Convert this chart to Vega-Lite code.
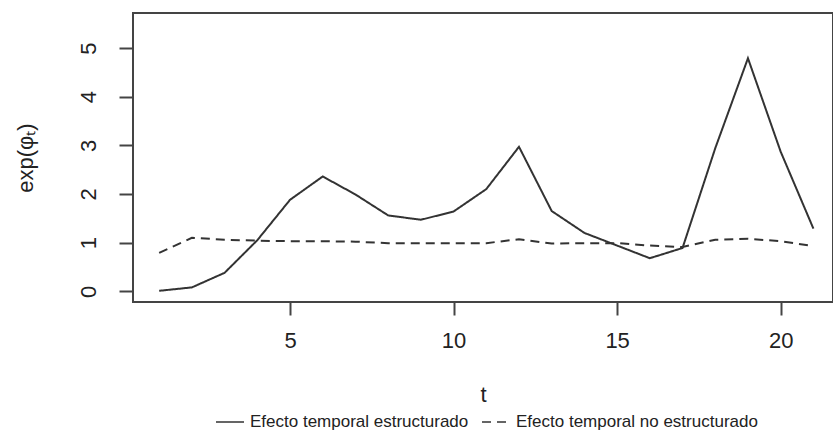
{
  "$schema": "https://vega.github.io/schema/vega-lite/v6.json",
  "autosize": {"type": "none"},
  "width": 700,
  "height": 289,
  "padding": {"left": 133, "top": 13, "right": 0, "bottom": 130},
  "background": "white",
  "config": {
    "font": "Liberation Sans",
    "view": {"stroke": "#444", "strokeWidth": 2},
    "axis": {"grid": false, "domain": false, "tickColor": "#444", "tickWidth": 2, "labelColor": "#222", "titleColor": "#222", "labelFontSize": 22, "titleFontSize": 22, "titleFontWeight": "normal", "labelFont": "Liberation Sans", "titleFont": "Liberation Sans"}
  },
  "data": {
    "values": [
      {"t": 1, "valor": 0.01, "serie": "Efecto temporal estructurado"},
      {"t": 2, "valor": 0.08, "serie": "Efecto temporal estructurado"},
      {"t": 3, "valor": 0.38, "serie": "Efecto temporal estructurado"},
      {"t": 4, "valor": 1.05, "serie": "Efecto temporal estructurado"},
      {"t": 5, "valor": 1.88, "serie": "Efecto temporal estructurado"},
      {"t": 6, "valor": 2.36, "serie": "Efecto temporal estructurado"},
      {"t": 7, "valor": 1.99, "serie": "Efecto temporal estructurado"},
      {"t": 8, "valor": 1.56, "serie": "Efecto temporal estructurado"},
      {"t": 9, "valor": 1.47, "serie": "Efecto temporal estructurado"},
      {"t": 10, "valor": 1.64, "serie": "Efecto temporal estructurado"},
      {"t": 11, "valor": 2.1, "serie": "Efecto temporal estructurado"},
      {"t": 12, "valor": 2.97, "serie": "Efecto temporal estructurado"},
      {"t": 13, "valor": 1.65, "serie": "Efecto temporal estructurado"},
      {"t": 14, "valor": 1.2, "serie": "Efecto temporal estructurado"},
      {"t": 15, "valor": 0.94, "serie": "Efecto temporal estructurado"},
      {"t": 16, "valor": 0.68, "serie": "Efecto temporal estructurado"},
      {"t": 17, "valor": 0.89, "serie": "Efecto temporal estructurado"},
      {"t": 18, "valor": 2.94, "serie": "Efecto temporal estructurado"},
      {"t": 19, "valor": 4.79, "serie": "Efecto temporal estructurado"},
      {"t": 20, "valor": 2.87, "serie": "Efecto temporal estructurado"},
      {"t": 21, "valor": 1.29, "serie": "Efecto temporal estructurado"},
      {"t": 1, "valor": 0.79, "serie": "Efecto temporal no estructurado"},
      {"t": 2, "valor": 1.1, "serie": "Efecto temporal no estructurado"},
      {"t": 3, "valor": 1.06, "serie": "Efecto temporal no estructurado"},
      {"t": 4, "valor": 1.04, "serie": "Efecto temporal no estructurado"},
      {"t": 5, "valor": 1.03, "serie": "Efecto temporal no estructurado"},
      {"t": 6, "valor": 1.03, "serie": "Efecto temporal no estructurado"},
      {"t": 7, "valor": 1.02, "serie": "Efecto temporal no estructurado"},
      {"t": 8, "valor": 0.99, "serie": "Efecto temporal no estructurado"},
      {"t": 9, "valor": 0.99, "serie": "Efecto temporal no estructurado"},
      {"t": 10, "valor": 0.99, "serie": "Efecto temporal no estructurado"},
      {"t": 11, "valor": 0.99, "serie": "Efecto temporal no estructurado"},
      {"t": 12, "valor": 1.07, "serie": "Efecto temporal no estructurado"},
      {"t": 13, "valor": 0.98, "serie": "Efecto temporal no estructurado"},
      {"t": 14, "valor": 0.99, "serie": "Efecto temporal no estructurado"},
      {"t": 15, "valor": 0.99, "serie": "Efecto temporal no estructurado"},
      {"t": 16, "valor": 0.94, "serie": "Efecto temporal no estructurado"},
      {"t": 17, "valor": 0.91, "serie": "Efecto temporal no estructurado"},
      {"t": 18, "valor": 1.06, "serie": "Efecto temporal no estructurado"},
      {"t": 19, "valor": 1.08, "serie": "Efecto temporal no estructurado"},
      {"t": 20, "valor": 1.03, "serie": "Efecto temporal no estructurado"},
      {"t": 21, "valor": 0.93, "serie": "Efecto temporal no estructurado"}
    ]
  },
  "mark": {"type": "line", "color": "#333", "strokeWidth": 2, "clip": true},
  "encoding": {
    "x": {
      "field": "t", "type": "quantitative",
      "scale": {"domain": [0.2, 21.6], "nice": false, "zero": false},
      "axis": {"values": [5, 10, 15, 20], "tickSize": 13, "labelPadding": 15, "title": "t", "titlePadding": 33, "labelFlush": false}
    },
    "y": {
      "field": "valor", "type": "quantitative",
      "scale": {"domain": [-0.22, 5.72], "nice": false, "zero": false},
      "axis": {"values": [0, 1, 2, 3, 4, 5], "tickSize": 14, "labelAngle": 270, "labelAlign": "center", "labelBaseline": "alphabetic", "labelPadding": 24, "title": "exp(φₜ)", "titlePadding": 40, "labelFlush": false}
    },
    "strokeDash": {
      "field": "serie", "type": "nominal",
      "scale": {"domain": ["Efecto temporal estructurado", "Efecto temporal no estructurado"], "range": [[1, 0], [9, 6]]},
      "legend": {
        "title": null, "orient": "none", "direction": "horizontal",
        "legendX": 82, "legendY": 394,
        "symbolType": "stroke", "symbolSize": 784, "symbolStrokeWidth": 1.5, "symbolStrokeColor": "#333",
        "labelFontSize": 17, "labelColor": "#222", "labelOffset": 5, "columnPadding": 10, "labelLimit": 400
      }
    }
  }
}
